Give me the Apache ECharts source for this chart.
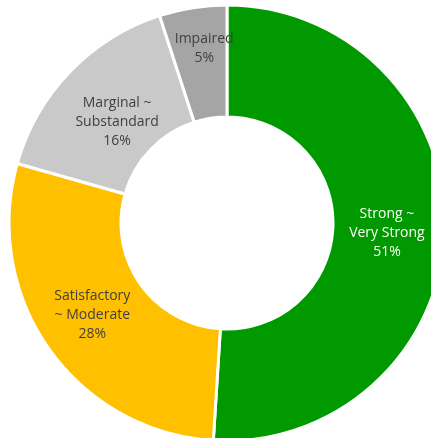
<!DOCTYPE html>
<html><head><meta charset="utf-8">
<script src="https://cdn.jsdelivr.net/npm/echarts@6/dist/echarts.min.js"></script>
<style>html,body{margin:0;padding:0;background:#fff}#c{width:431px;height:438px}</style>
</head><body><div id="c"></div>
<script>
const categories = ['Strong ~\nVery Strong', 'Satisfactory\n~ Moderate', 'Marginal ~\nSubstandard', 'Impaired'];
const values = [51.0, 28.4, 15.6, 5.0];
const colors = ['#009900', '#FFC000', '#C9C9C9', '#A5A5A5'];
const labelColors = ['#ffffff', '#404040', '#404040', '#404040'];
const labelOffsets = [[-5, 5], [0, -3], [9, 13], [3, -12]];

const chart = echarts.init(document.getElementById('c'));
chart.setOption({
  animation: false,
  series: [{
    type: 'pie',
    center: [227, 223],
    radius: [106, 218],
    startAngle: 90,
    clockwise: true,
    itemStyle: { borderColor: '#ffffff', borderWidth: 3 },
    labelLine: { show: false },
    data: categories.map((c, i) => ({
      name: c, value: values[i],
      itemStyle: { color: colors[i] },
      label: { color: labelColors[i], offset: labelOffsets[i] }
    })),
    label: {
      show: true, position: 'inside',
      fontFamily: 'Open Sans', fontSize: 14, lineHeight: 19,
      formatter: p => p.name + '\n' + Math.round(p.value) + '%'
    }
  }]
});
</script></body></html>
